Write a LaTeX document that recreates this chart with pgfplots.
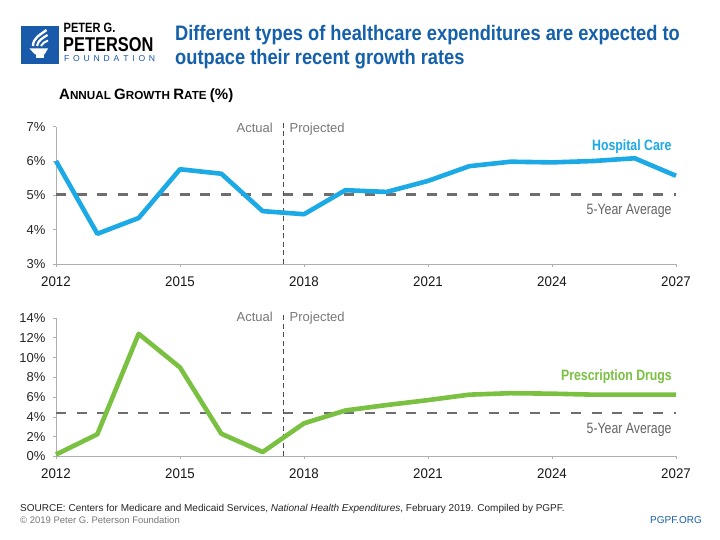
\documentclass[border=0pt]{standalone}
\usepackage{pgfplots}
\pgfplotsset{compat=1.18}
\usepackage{fontspec}
\setmainfont{Liberation Sans}
\newfontfamily\condfont[FakeStretch=0.82]{Liberation Sans}
\newfontfamily\titlefont[FakeStretch=0.87]{Liberation Sans}
\newfontfamily\yearfont[FakeStretch=0.95]{Liberation Sans}
\definecolor{hosp}{RGB}{27,170,230}
\definecolor{drug}{RGB}{122,193,66}
\definecolor{titleblue}{RGB}{21,96,170}
\definecolor{logoblue}{RGB}{25,90,170}
\definecolor{avggray}{RGB}{110,110,110}
\definecolor{labgray}{RGB}{100,100,100}
\definecolor{txtgray}{RGB}{120,120,120}
\definecolor{axisgray}{RGB}{175,175,175}
\newcommand{\fs}[1]{\fontsize{#1bp}{#1bp}\selectfont}
\pgfplotsset{pgpf/.style={
  scale only axis, axis x line=bottom, axis y line=left,
  axis line style={draw=axisgray, line width=0.8bp, -},
  tick style={draw=axisgray, line width=0.8bp},
  tick align=outside, major tick length=3bp,
  xmin=2012, xmax=2027, xtick={2012,2015,2018,2021,2024,2027},
  xticklabels={2012,2015,2018,2021,2024,2027},
  x tick label style={font=\yearfont\fs{14}, text=black!90, yshift=-6bp},
  y tick label style={font=\fs{13}, text=black!85, xshift=-4bp},
  clip=false, width=620bp, anchor=south west},
  avg/.style={draw=avggray, line width=2.8bp, dash pattern=on 10bp off 10.6bp, forget plot},
  vline/.style={draw=black!70, line width=1.1bp, dash pattern=on 5bp off 3.5bp, forget plot}}
\begin{document}
\begin{tikzpicture}[x=1bp,y=1bp]
\path[use as bounding box] (0,0) rectangle (720,540);
\fill[white] (0,0) rectangle (720,540);
% logo
\fill[logoblue] (20.5,476) rectangle (59,514);
\fill[white] (29.5,491.5) -- (48,491.5) -- (44.5,485.5) -- (35,485.5) -- cycle;
\fill[white] (36,485.5) rectangle (43.5,482);
\draw[white, line width=2.4bp] (33,494) .. controls (33,502) and (40,505) .. (46.5,510);
\draw[white, line width=2.2bp] (37,494) .. controls (38,500) and (43,502) .. (47.5,505);
\draw[white, line width=2bp] (41,494) .. controls (42,497) and (45,498) .. (48,499.5);
\node[anchor=base west, inner sep=0] at (63.5,507.5) {\condfont\bfseries\fs{13.5}PETER G.};
\node[anchor=base west, inner sep=0] at (63,488.3) {\condfont\bfseries\fs{20}PETERSON};
\node[anchor=base west, inner sep=0, text=logoblue] at (64,478.3) {\fs{8.6}\makebox[91bp][s]{F\hfill O\hfill U\hfill N\hfill D\hfill A\hfill T\hfill I\hfill O\hfill N}};
% title
\node[anchor=base west, inner sep=0, text=titleblue] at (175,499) {\titlefont\bfseries\fs{21}Different types of healthcare expenditures are expected to};
\node[anchor=base west, inner sep=0, text=titleblue] at (175,475) {\titlefont\bfseries\fs{21}outpace their recent growth rates};
% subtitle
\node[anchor=base west, inner sep=0] at (59,440) {\bfseries\fs{15}A\fs{11.7}NNUAL \fs{15}G\fs{11.7}ROWTH \fs{15}R\fs{11.7}ATE \fs{15}(\%)};
% top axis
\begin{axis}[pgpf, at={(56bp,276bp)}, height=137.3bp, ymin=3, ymax=7,
  ytick={3,4,5,6,7}, yticklabels={3\%,4\%,5\%,6\%,7\%}]
\addplot[avg] coordinates {(2012,5.02) (2027,5.02)};
\addplot[vline] coordinates {(2017.5,3) (2017.5,7.12)};
\addplot[draw=hosp, line width=4.6bp, line join=round, no marks] coordinates {
(2012,6.00) (2013,3.88) (2014,4.34) (2015,5.76) (2016,5.63) (2017,4.54)
(2018,4.45) (2019,5.15) (2020,5.10) (2021,5.42) (2022,5.85) (2023,5.98)
(2024,5.96) (2025,6.00) (2026,6.08) (2027,5.57)};
\end{axis}
% bottom axis
\begin{axis}[pgpf, at={(56bp,83.5bp)}, height=138.5bp, ymin=0, ymax=14,
  ytick={0,2,4,6,8,10,12,14}, yticklabels={0\%,2\%,4\%,6\%,8\%,10\%,12\%,14\%}]
\addplot[avg] coordinates {(2012,4.4) (2027,4.4)};
\addplot[vline] coordinates {(2017.5,0) (2017.5,14.5)};
\addplot[draw=drug, line width=4.6bp, line join=round, no marks] coordinates {
(2012,0.2) (2013,2.25) (2014,12.4) (2015,9.0) (2016,2.3) (2017,0.45)
(2018,3.35) (2019,4.65) (2020,5.2) (2021,5.7) (2022,6.25) (2023,6.4)
(2024,6.35) (2025,6.25) (2026,6.25) (2027,6.25)};
\end{axis}
% annotations
\node[anchor=base east, inner sep=0, text=txtgray] at (273,407.5) {\fs{13}Actual};
\node[anchor=base west, inner sep=0, text=txtgray] at (289.5,407.5) {\fs{13}Projected};
\node[anchor=base east, inner sep=0, text=txtgray] at (273,218.3) {\fs{13}Actual};
\node[anchor=base west, inner sep=0, text=txtgray] at (289.5,218.3) {\fs{13}Projected};
\node[anchor=base east, inner sep=0, text=hosp] at (671.7,389.3) {\condfont\bfseries\fs{15}Hospital Care};
\node[anchor=base east, inner sep=0, text=labgray] at (671.7,325) {\condfont\fs{15}5-Year Average};
\node[anchor=base east, inner sep=0, text=drug] at (672,159) {\condfont\bfseries\fs{15}Prescription Drugs};
\node[anchor=base east, inner sep=0, text=labgray] at (671.7,106) {\condfont\fs{15}5-Year Average};
% footer
\node[anchor=base west, inner sep=0, text=black!85] at (20,28.3) {\fs{10}SOURCE: Centers for Medicare and Medicaid Services, \textit{National Health Expenditures}, February 2019. Compiled by PGPF.};
\node[anchor=base west, inner sep=0, text=txtgray] at (20,16) {\fs{9.5}\textcopyright{} 2019 Peter G. Peterson Foundation};
\node[anchor=base east, inner sep=0, text=titleblue] at (702,16) {\fs{10}PGPF.ORG};
\end{tikzpicture}
\end{document}
